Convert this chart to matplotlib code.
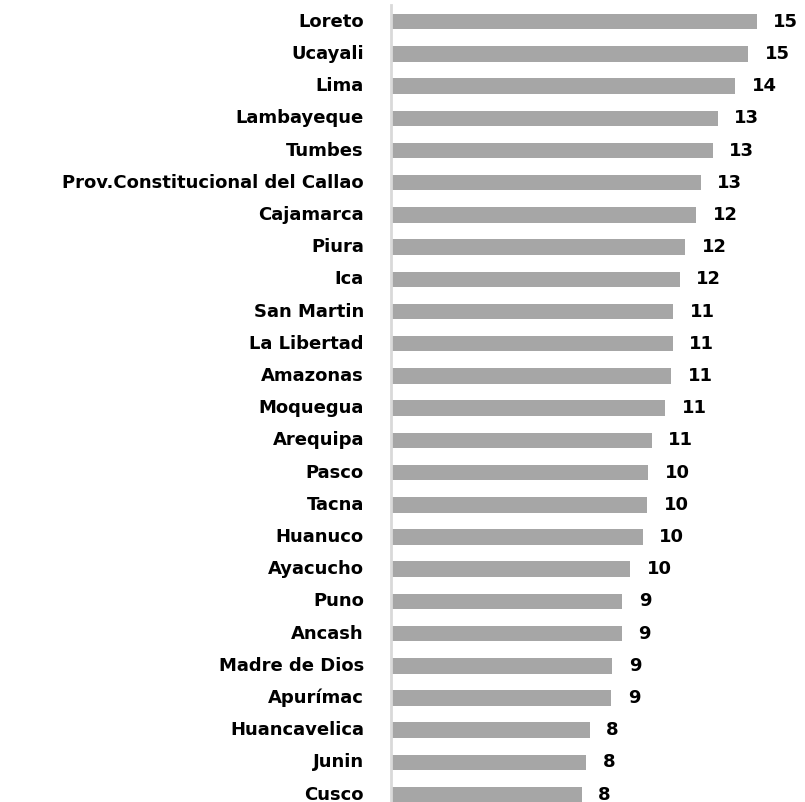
import matplotlib
matplotlib.use("Agg")
import matplotlib.pyplot as plt
from matplotlib.transforms import offset_copy

regions = ["Loreto", "Ucayali", "Lima", "Lambayeque", "Tumbes",
           "Prov.Constitucional del Callao", "Cajamarca", "Piura", "Ica",
           "San Martin", "La Libertad", "Amazonas", "Moquegua", "Arequipa",
           "Pasco", "Tacna", "Huanuco", "Ayacucho", "Puno", "Ancash",
           "Madre de Dios", "Apurímac", "Huancavelica", "Junin", "Cusco"]
values = [14.87, 14.52, 14.00, 13.28, 13.08, 12.59, 12.40, 11.95, 11.74,
          11.48, 11.45, 11.38, 11.15, 10.60, 10.45, 10.41, 10.23, 9.72,
          9.40, 9.39, 9.00, 8.96, 8.08, 7.94, 7.75]

W, H = 805, 802
fig = plt.figure(figsize=(W / 100, H / 100), dpi=100)
ax = fig.add_axes([391 / W, 0, 1 - 391 / W, 1 - 5 / H])

y = list(range(len(regions)))
ax.barh(y, values, height=0.48, color="#a6a6a6", zorder=2)
ax.set_ylim(24.23, -0.52)
ax.set_xlim(0, (W - 391) / 24.6)

for s in ["top", "right", "bottom"]:
    ax.spines[s].set_visible(False)
ax.spines["left"].set_color("#d9d9d9")
ax.spines["left"].set_linewidth(2)
ax.set_xticks([])
ax.set_yticks(y)
ax.set_yticklabels(regions, fontsize=13, fontweight="bold",
                   family="DejaVu Sans", va="center")
ax.tick_params(axis="y", length=0, pad=19.5)

trans = offset_copy(ax.transData, fig=fig, x=16.5, y=0, units="dots")
for yi, v in zip(y, values):
    ax.text(v, yi, f"{v:.0f}", transform=trans, ha="left", va="center",
            fontsize=13, fontweight="bold", family="DejaVu Sans",
            color="black")

fig.savefig("out.png", dpi=100)
